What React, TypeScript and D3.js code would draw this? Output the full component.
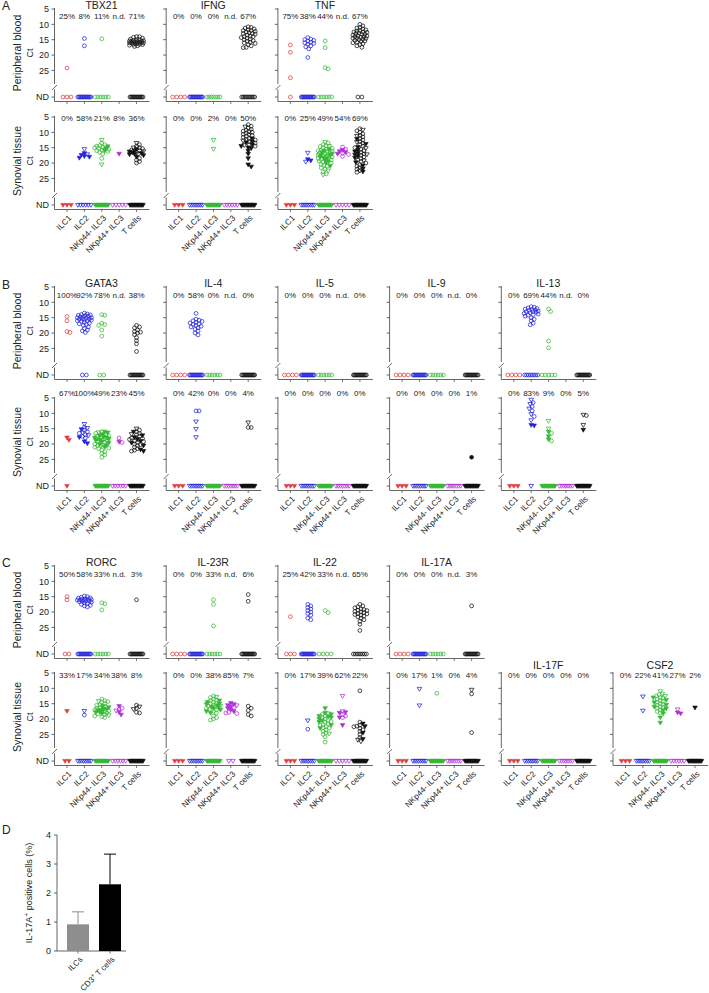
import React from 'react';
import * as d3 from 'd3';

type G = { o?: number[]; v?: number[]; t?: number[]; f?: number[]; nd?: number };

const CATS = ['ILC1', 'ILC2', 'NKp44- ILC3', 'NKp44+ ILC3', 'T cells'];
const COLORS = ['#e23b3f', '#2424dc', '#36b936', '#b12fd6', '#111111'];
const Y_TICKS = [5, 10, 15, 20, 25];
const D = 14; // dense ND row

// ---------- Panel A: peripheral blood ----------
const tbx21Blood: G[] = [
  { o: [24.2], nd: 3 },
  { o: [14.6, 17], nd: D },
  { o: [14.7], nd: 6 },
  {},
  { o: [14, 14, 14.2, 14.5, 14.8, 15, 15, 15.2, 15.3, 15.5, 15.5, 15.6, 15.8, 15.8, 16, 16, 16, 16.2, 16.3, 16.5, 16.5, 16.6, 16.8, 17, 17.2, 15.7, 15.4, 16.1], nd: D },
];
const tbx21BloodPct = ['25%', '8%', '11%', 'n.d.', '71%'];
const ifngBlood: G[] = [
  { nd: 4 },
  { nd: D },
  { nd: 7 },
  {},
  { o: [10.8, 11, 11.2, 11.5, 11.8, 12, 12, 12.3, 12.5, 12.7, 13, 13, 13.2, 13.5, 13.8, 14, 14, 14.3, 14.5, 14.8, 15, 15.3, 15.5, 15.8, 16, 16.2, 16.6, 17, 17.5, 17.6], nd: 10 },
];
const ifngBloodPct = ['0%', '0%', '0%', 'n.d.', '67%'];
const tnfBlood: G[] = [
  { o: [16.7, 19.1, 27.4], nd: 1 },
  { o: [14.3, 14.8, 15, 15.2, 15.5, 15.8, 16, 16.2, 16.5, 17, 17.3, 18, 20.8], nd: D },
  { o: [15.4, 17.6, 24.1, 24.5], nd: 6 },
  {},
  { o: [10, 10.5, 11, 11.2, 11.5, 11.8, 12, 12.2, 12.5, 12.5, 12.8, 13, 13.2, 13.3, 13.5, 13.7, 14, 14, 14.2, 14.5, 14.6, 14.8, 15, 15.2, 15.5, 15.8, 16, 16.3, 16.6, 17, 17.5, 12.6, 13.8, 14.4, 15.4], nd: 2 },
];
const tnfBloodPct = ['75%', '38%', '44%', 'n.d.', '67%'];

// ---------- Panel A: synovial tissue ----------
const tbx21Syn: G[] = [
  { nd: 3 },
  { v: [15.5, 17.2], t: [16.8, 17.4, 17.8, 18, 18.3], nd: 6 },
  { v: [12.5, 20.5], o: [13.5, 14, 14.3, 14.5, 14.8, 15, 15.2, 15.5, 15.8, 16, 16.2, 16.5, 17, 18.5], t: [14.6, 15.3, 16], nd: D },
  { t: [17], nd: 5 },
  { o: [14, 14.5, 15, 15.3, 15.8, 16, 16.5, 17, 18.5, 19, 19.5, 20], v: [13.5, 15, 16.2], t: [15.5, 16, 16.3, 16.6, 16.8, 17, 17.2, 17.5, 18], nd: D },
];
const tbx21SynPct = ['0%', '58%', '21%', '8%', '36%'];
const ifngSyn: G[] = [
  { nd: 3 },
  { nd: 8 },
  { v: [12.5, 15.4], nd: D },
  { nd: 6 },
  { o: [7.5, 8, 8.5, 9, 9.3, 9.6, 10, 10.3, 10.6, 11, 11.3, 11.6, 12, 12.3, 12.5, 13, 13.5, 14, 14.5], v: [8.2, 9.8, 10.8, 12.8, 14.2], t: [12, 13, 13.3, 14, 14.5, 15, 15.2, 16, 17, 18.5, 20.5, 21.2], nd: D },
];
const ifngSynPct = ['0%', '0%', '2%', '0%', '50%'];
const tnfSyn: G[] = [
  { nd: 3 },
  { v: [16.7, 19.6], t: [18.8, 19.2], nd: 8 },
  { o: [13.5, 14, 14.3, 14.6, 15, 15.2, 15.5, 15.8, 16, 16.2, 16.4, 16.6, 16.8, 17, 17.2, 17.4, 17.6, 17.8, 18, 18.2, 18.5, 18.8, 19, 19.3, 19.6, 20, 20.5, 21, 21.5, 22, 22.8, 23.5], t: [15.5, 16, 16.5, 17, 17.3, 17.5, 18, 18.3, 18.6, 19, 19.5, 20, 21], v: [13.2, 14.5, 20.8, 22.5, 23.8], nd: D },
  { o: [14.8, 15.5, 16.8, 17.2, 17.8], t: [15.8, 16.2, 16.5, 17], nd: 5 },
  { o: [8.8, 9.5, 10, 10.5, 11, 11.5, 12, 12.5, 13, 13.5, 14, 14.5, 15, 15.5, 16, 16.5, 17, 17.5, 18, 18.5, 19, 19.5, 20, 20.5, 21, 22, 23], v: [9.2, 11.2, 13.2, 15.2, 17.2, 19.2, 21.5, 22.5], t: [12.2, 13.8, 14.8, 15.8, 16.3, 16.8, 17.3, 17.8, 18.3, 19.8, 20.8, 21.8, 22.8], nd: D },
];
const tnfSynPct = ['0%', '25%', '49%', '54%', '69%'];

// ---------- Panel B: peripheral blood ----------
const gata3Blood: G[] = [
  { o: [14.6, 16, 19.5, 19.8] },
  { o: [13.5, 13.8, 14, 14.2, 14.3, 14.5, 14.6, 14.8, 15, 15, 15.2, 15.3, 15.5, 15.6, 15.8, 16, 16, 16.2, 16.5, 16.8, 17, 17.2, 17.5, 18, 18.5, 19, 19.3, 19.8, 14.1, 15.4], nd: 2 },
  { o: [14.2, 14, 16.8, 17.5, 17.2, 19, 21], nd: 2 },
  {},
  { o: [17.5, 18, 18.3, 19, 19.5, 19.7, 20, 20.5, 21.5, 22.5, 23.5, 26], nd: D },
];
const gata3BloodPct = ['100%', '92%', '78%', 'n.d.', '38%'];
const il4Blood: G[] = [
  { nd: 4 },
  { o: [13.6, 15.5, 15.8, 16, 16.2, 16.5, 16.7, 17, 17.2, 17.5, 17.8, 18, 18.3, 18.8, 19.3, 20, 20.6], nd: D },
  { nd: 6 },
  {},
  { nd: D },
];
const il4BloodPct = ['0%', '58%', '0%', 'n.d.', '0%'];
const il5Blood: G[] = [{ nd: 4 }, { nd: D }, { nd: 6 }, {}, { nd: D }];
const il5BloodPct = ['0%', '0%', '0%', 'n.d.', '0%'];
const il9Blood: G[] = [{ nd: 4 }, { nd: D }, { nd: 6 }, {}, { nd: D }];
const il9BloodPct = ['0%', '0%', '0%', 'n.d.', '0%'];
const il13Blood: G[] = [
  { nd: 4 },
  { o: [11.4, 11.6, 11.8, 12, 12.2, 12.3, 12.5, 12.6, 12.8, 13, 13, 13.2, 13.4, 13.6, 13.8, 14, 14.2, 14.5, 15, 15.5, 16, 16.8, 17.3], nd: 8 },
  { o: [12.2, 13, 22.6, 24.8], nd: 5 },
  {},
  { nd: D },
];
const il13BloodPct = ['0%', '69%', '44%', 'n.d.', '0%'];

// ---------- Panel B: synovial tissue ----------
const gata3Syn: G[] = [
  { t: [17.9, 18.7], nd: 1 },
  { o: [14.5, 15.5, 16, 16.5, 17, 17.5, 18], v: [13.5, 14.8, 16.3, 17.2], t: [15.2, 17.8, 19.2, 19.8] },
  { o: [16, 16.5, 17, 17.5, 18, 18.5, 19, 19.5, 20, 20.5, 21, 21.5, 22, 22.5, 23, 23.5, 24.3, 17.3, 18.3, 19.3, 20.3, 21.3], t: [16, 16.3, 16.8, 17.2, 17.6, 18, 18.4, 18.8, 19.2, 19.6, 20, 20.4, 21, 17.9, 18.6], v: [16.2, 18.2, 20.6], nd: D },
  { o: [18, 19.5], t: [19.3], nd: 6 },
  { o: [15.5, 16, 16.5, 17, 17.5, 18, 18.5, 19, 19.5, 20, 20.5, 21, 21.5, 22, 22.3, 18.2, 19.2, 20.2], t: [16, 17.2, 17.8, 18.4, 19, 19.6, 20.5, 21.8, 22.3], v: [15, 16.8], nd: D },
];
const gata3SynPct = ['67%', '100%', '49%', '23%', '45%'];
const il4Syn: G[] = [
  { nd: 3 },
  { o: [9.2, 9.2], v: [12.7, 15.1, 17.8], nd: 8 },
  { nd: D },
  { nd: 7 },
  { v: [13], o: [14.6, 14.6], nd: D },
];
const il4SynPct = ['0%', '42%', '0%', '0%', '4%'];
const il5Syn: G[] = [{ nd: 3 }, { nd: 8 }, { nd: D }, { nd: 7 }, { nd: D }];
const il5SynPct = ['0%', '0%', '0%', '0%', '0%'];
const il9Syn: G[] = [{ nd: 3 }, { nd: 8 }, { nd: D }, { nd: 7 }, { f: [24.3], nd: D }];
const il9SynPct = ['0%', '0%', '0%', '0%', '1%'];
const il13Syn: G[] = [
  { nd: 3 },
  { v: [5.6, 7, 8.5, 10.3, 12.3], o: [6.5, 7.8, 9.2, 11], t: [13.8, 14], nd: 1 },
  { v: [12.5, 15], o: [16.5, 19], t: [16, 17.5, 18.5], nd: D },
  { nd: 7 },
  { v: [10.5, 13.8], o: [10.7], t: [15.4], nd: D },
];
const il13SynPct = ['0%', '83%', '9%', '0%', '5%'];

// ---------- Panel C: peripheral blood ----------
const rorcBlood: G[] = [
  { o: [15, 16], nd: 2 },
  { o: [14.8, 15, 15.2, 15.4, 15.5, 15.7, 15.8, 16, 16, 16.2, 16.3, 16.5, 16.6, 16.8, 17, 17.2, 17.5, 17.8, 18, 18.3, 16.1, 15.9, 16.4], nd: D },
  { o: [17.3, 17, 19.3], nd: 6 },
  {},
  { o: [16], nd: D },
];
const rorcBloodPct = ['50%', '58%', '33%', 'n.d.', '3%'];
const il23rBlood: G[] = [
  { nd: 4 },
  { nd: D },
  { o: [16, 17.5, 24.5], nd: 6 },
  {},
  { o: [14.3, 16.5], nd: D },
];
const il23rBloodPct = ['0%', '0%', '33%', 'n.d.', '6%'];
const il22Blood: G[] = [
  { o: [21.5], nd: 3 },
  { o: [17.5, 18, 18.5, 19, 19.5, 20, 20.5, 21, 22, 22.5], nd: D },
  { o: [19.5, 20.2], nd: 4 },
  {},
  { o: [17.5, 18, 18.3, 18.6, 19, 19.2, 19.5, 19.8, 20, 20.2, 20.5, 20.8, 21, 21.3, 21.6, 22, 22.5, 23, 24, 26, 19.4, 20.6], nd: 8 },
];
const il22BloodPct = ['25%', '42%', '33%', 'n.d.', '65%'];
const il17aBlood: G[] = [
  { nd: 4 },
  { nd: D },
  { nd: 6 },
  {},
  { o: [18], nd: D },
];
const il17aBloodPct = ['0%', '0%', '0%', 'n.d.', '3%'];

// ---------- Panel C: synovial tissue ----------
const rorcSyn: G[] = [
  { t: [17.4], nd: 2 },
  { v: [17.4], o: [18.7], nd: 8 },
  { o: [13.5, 14, 14.5, 15, 15.5, 16, 16.5, 17, 17.5, 18, 18.5, 19, 19.5, 14.3, 15.3, 16.3, 17.3, 18.3, 19.2], t: [15.8, 16.2, 16.6, 17, 17.2, 17.5, 17.8, 18.2, 16.8, 17.6], v: [14.2, 18.8], nd: D },
  { t: [15.8, 17.8, 18.6], o: [16.8, 16.5], v: [17.3], nd: 6 },
  { o: [15.5, 16.5, 17.8, 18], v: [16, 16.8], nd: D },
];
const rorcSynPct = ['33%', '17%', '34%', '38%', '8%'];
const il23rSyn: G[] = [
  { nd: 3 },
  { nd: 8 },
  { o: [12.5, 13, 13.5, 14, 14.5, 15, 15.5, 16, 16.5, 17, 17.5, 18, 19, 19.5, 20, 20.3, 13.8, 14.8, 15.8, 16.8], t: [14, 14.5, 15, 15.5, 16, 16.5, 17, 17.5, 18, 15.2, 16.2], v: [12.8, 15.8], nd: D },
  { t: [14.8, 15.2, 15.5, 16, 16.5, 17, 17.5], o: [16.2, 17.8, 18, 18.2], v: [15.6], nd: 2 },
  { o: [15.8, 16.5, 17.2, 18.5, 19], nd: D },
];
const il23rSynPct = ['0%', '0%', '38%', '85%', '7%'];
const il22Syn: G[] = [
  { nd: 3 },
  { v: [20.5], o: [23.3], nd: 8 },
  { t: [16.5, 18, 18.5, 19, 19.2, 19.5, 20, 20.5, 21, 22, 23], o: [18.5, 19, 19.5, 20, 20.5, 21, 21.5, 22, 22.5, 23, 23.5, 24, 24.5, 25, 25.8, 27.5, 20.8, 21.8, 22.8], v: [18.2, 24.8], nd: D },
  { v: [12.5, 17.5], t: [18, 17.8, 19.5, 22], o: [18.5, 19, 19.5], nd: 5 },
  { o: [10.8, 21, 22, 22.5, 23, 23.5, 24, 25, 26, 22.3], t: [21.5, 22.4, 24.5, 26.5], v: [26.8, 27.3], nd: D },
];
const il22SynPct = ['0%', '17%', '39%', '62%', '22%'];
const il17aSyn: G[] = [
  { nd: 3 },
  { v: [10.2, 15.6], nd: 8 },
  { o: [11.6], nd: D },
  { nd: 7 },
  { o: [11.8, 24.4], v: [10.5], nd: D },
];
const il17aSynPct = ['0%', '17%', '1%', '0%', '4%'];
const il17fSyn: G[] = [{ nd: 3 }, { nd: 8 }, { nd: D }, { nd: 7 }, { nd: D }];
const il17fSynPct = ['0%', '0%', '0%', '0%', '0%'];
const csf2Syn: G[] = [
  { nd: 3 },
  { v: [12.7, 17.3], nd: 8 },
  { v: [11, 11.8, 12.5], o: [12, 12.5, 13, 13.5, 14, 14.5, 15, 15.5, 16, 16.5, 17, 17.5, 18, 13.2, 14.2, 15.2, 16.2], t: [13, 13.8, 14.6, 15.4, 16, 16.6, 17.2, 18.2, 19.5, 21.2], nd: D },
  { t: [17.9, 18.2], v: [16.9], nd: 6 },
  { t: [16.3], nd: D },
];
const csf2SynPct = ['0%', '22%', '41%', '27%', '2%'];

// ---------- Panel D ----------
const dCats = ['ILCs', 'CD3+ T cells'];
const dMeans = [0.92, 2.3];
const dErr = [0.43, 1.04];
const dTicks = [0, 1, 2, 3, 4];

// ---------- layout ----------
const FONT = '"Liberation Sans", Arial, Helvetica, sans-serif';
const TXT = '#222';
const AX = '#555';
const COL_X = [54.5, 166.2, 277.9, 389.6, 501.3, 613];
const PX_PER_CT = 3.07;

type Panel = { col: number; title?: string; data: G[]; pct: string[] };
type Row = { y5: number; pctY: number; titleY: number; label: string; xlabels: boolean; blood: boolean; letter?: string; letterY?: number; panels: Panel[] };

const ROWS: Row[] = [
  { y5: 9, pctY: 16, titleY: 5, label: 'Peripheral blood', xlabels: false, blood: true, letter: 'A', letterY: 6,
    panels: [
      { col: 0, title: 'TBX21', data: tbx21Blood, pct: tbx21BloodPct },
      { col: 1, title: 'IFNG', data: ifngBlood, pct: ifngBloodPct },
      { col: 2, title: 'TNF', data: tnfBlood, pct: tnfBloodPct },
    ] },
  { y5: 117, pctY: 118, titleY: 0, label: 'Synovial tissue', xlabels: true, blood: false,
    panels: [
      { col: 0, data: tbx21Syn, pct: tbx21SynPct },
      { col: 1, data: ifngSyn, pct: ifngSynPct },
      { col: 2, data: tnfSyn, pct: tnfSynPct },
    ] },
  { y5: 287, pctY: 295, titleY: 283, label: 'Peripheral blood', xlabels: false, blood: true, letter: 'B', letterY: 285,
    panels: [
      { col: 0, title: 'GATA3', data: gata3Blood, pct: gata3BloodPct },
      { col: 1, title: 'IL-4', data: il4Blood, pct: il4BloodPct },
      { col: 2, title: 'IL-5', data: il5Blood, pct: il5BloodPct },
      { col: 3, title: 'IL-9', data: il9Blood, pct: il9BloodPct },
      { col: 4, title: 'IL-13', data: il13Blood, pct: il13BloodPct },
    ] },
  { y5: 398, pctY: 393, titleY: 0, label: 'Synovial tissue', xlabels: true, blood: false,
    panels: [
      { col: 0, data: gata3Syn, pct: gata3SynPct },
      { col: 1, data: il4Syn, pct: il4SynPct },
      { col: 2, data: il5Syn, pct: il5SynPct },
      { col: 3, data: il9Syn, pct: il9SynPct },
      { col: 4, data: il13Syn, pct: il13SynPct },
    ] },
  { y5: 566, pctY: 574, titleY: 562, label: 'Peripheral blood', xlabels: false, blood: true, letter: 'C', letterY: 563,
    panels: [
      { col: 0, title: 'RORC', data: rorcBlood, pct: rorcBloodPct },
      { col: 1, title: 'IL-23R', data: il23rBlood, pct: il23rBloodPct },
      { col: 2, title: 'IL-22', data: il22Blood, pct: il22BloodPct },
      { col: 3, title: 'IL-17A', data: il17aBlood, pct: il17aBloodPct },
    ] },
  { y5: 673, pctY: 675, titleY: 665, label: 'Synovial tissue', xlabels: true, blood: false,
    panels: [
      { col: 0, data: rorcSyn, pct: rorcSynPct },
      { col: 1, data: il23rSyn, pct: il23rSynPct },
      { col: 2, data: il22Syn, pct: il22SynPct },
      { col: 3, data: il17aSyn, pct: il17aSynPct },
      { col: 4, title: 'IL-17F', data: il17fSyn, pct: il17fSynPct },
      { col: 5, title: 'CSF2', data: csf2Syn, pct: csf2SynPct },
    ] },
];

function swarm(ys: number[], minD = 3.0, step = 1.0, maxOff = 7): number[] {
  const idx = ys.map((_, i) => i).sort((a, b) => ys[a] - ys[b]);
  const placed: { x: number; y: number }[] = [];
  const out = new Array(ys.length).fill(0);
  const nCand = Math.floor(maxOff / step) * 2 + 1;
  for (const i of idx) {
    const y = ys[i];
    let best = 0;
    let bestD = -1;
    for (let k = 0; k < nCand; k++) {
      const off = (k % 2 === 1 ? 1 : -1) * Math.ceil(k / 2) * step;
      let md = Infinity;
      for (const p of placed) {
        if (Math.abs(p.y - y) < minD) {
          const d = Math.hypot(p.x - off, p.y - y);
          if (d < md) md = d;
        }
      }
      if (md >= minD) { best = off; bestD = md; break; }
      if (md > bestD) { bestD = md; best = off; }
    }
    placed.push({ x: best, y });
    out[i] = best;
  }
  return out;
}

const TRI = 'M0,2.3L-2.3,-1.6L2.3,-1.6Z';

function Marker({ x, y, type, color }: { x: number; y: number; type: string; color: string }) {
  if (type === 'o') return <circle cx={x} cy={y} r={1.9} fill="none" stroke={color} strokeWidth={0.75} />;
  if (type === 'f') return <circle cx={x} cy={y} r={1.9} fill={color} stroke={color} strokeWidth={0.6} />;
  if (type === 'v') return <path d={TRI} transform={`translate(${x},${y})`} fill="none" stroke={color} strokeWidth={0.75} />;
  return <path d={TRI} transform={`translate(${x},${y})`} fill={color} stroke={color} strokeWidth={0.6} />;
}

function SubPlot({ row, panel }: { row: Row; panel: Panel }) {
  const x0 = COL_X[panel.col];
  const y = d3.scaleLinear().domain([5, 25]).range([row.y5, row.y5 + 20 * PX_PER_CT]);
  const x = d3.scalePoint<string>().domain(CATS).range([x0 + 12.5, x0 + 82]);
  const ndY = row.y5 + 88;
  const axY = row.y5 + 92.5;
  const first = panel.col === 0;
  const ndDefault = row.blood ? ['o', 'o', 'o', 'o', 'o'] : ['t', 'v', 't', 'v', 't'];
  return (
    <g>
      {/* y axis with break */}
      <line x1={x0} x2={x0} y1={row.y5 - 1} y2={row.y5 + 75} stroke={AX} strokeWidth={0.9} />
      <line x1={x0 - 2.5} x2={x0 + 2.5} y1={row.y5 + 81} y2={row.y5 + 76} stroke={AX} strokeWidth={0.9} />
      <line x1={x0} x2={x0} y1={row.y5 + 80.5} y2={axY} stroke={AX} strokeWidth={0.9} />
      {Y_TICKS.map((t) => (
        <g key={t}>
          <line x1={x0 - 3} x2={x0} y1={y(t)} y2={y(t)} stroke={AX} strokeWidth={0.9} />
          {first && (
            <text x={x0 - 5.5} y={y(t)} dy="0.35em" textAnchor="end" fontSize={9} fill={TXT}>{t}</text>
          )}
        </g>
      ))}
      <line x1={x0 - 3} x2={x0} y1={ndY} y2={ndY} stroke={AX} strokeWidth={0.9} />
      {first && <text x={x0 - 5.5} y={ndY} dy="0.35em" textAnchor="end" fontSize={9} fill={TXT}>ND</text>}
      {/* x axis */}
      <line x1={x0} x2={x0 + 95} y1={axY} y2={axY} stroke={AX} strokeWidth={0.9} />
      {CATS.map((c) => (
        <line key={c} x1={x(c)!} x2={x(c)!} y1={axY} y2={axY + 2.5} stroke={AX} strokeWidth={0.8} />
      ))}
      {row.xlabels && CATS.map((c) => (
        <text key={'l' + c} transform={`translate(${x(c)! + 3},${axY + 7}) rotate(-45)`} textAnchor="end" dy="0.35em" fontSize={8.2} fill={TXT}>{c}</text>
      ))}
      {panel.title && (
        <text x={x0 + 47} y={row.titleY} dy="0.35em" textAnchor="middle" fontSize={10.5} fill={TXT}>{panel.title}</text>
      )}
      {panel.pct.map((p, i) => (
        <text key={'p' + i} x={x(CATS[i])!} y={row.pctY} dy="0.35em" textAnchor="middle" fontSize={8} fill={TXT}>{p}</text>
      ))}
      {panel.data.map((g, gi) => {
        const cx = x(CATS[gi])!;
        const col = COLORS[gi];
        const items: { v: number; type: string }[] = [];
        (g.o || []).forEach((v) => items.push({ v, type: 'o' }));
        (g.v || []).forEach((v) => items.push({ v, type: 'v' }));
        (g.t || []).forEach((v) => items.push({ v, type: 't' }));
        (g.f || []).forEach((v) => items.push({ v, type: 'f' }));
        const ys = items.map((it) => y(it.v));
        const offs = swarm(ys);
        const n = g.nd || 0;
        const sp = n > 1 ? Math.min(4, 13 / (n - 1)) : 0;
        const nds = d3.range(n);
        return (
          <g key={'g' + gi}>
            {items.map((it, j) => (
              <Marker key={j} x={cx + offs[j]} y={ys[j]} type={it.type} color={col} />
            ))}
            {nds.map((j) => (
              <Marker key={'n' + j} x={cx + (j - (n - 1) / 2) * sp} y={ndY} type={ndDefault[gi]} color={col} />
            ))}
          </g>
        );
      })}
    </g>
  );
}

function RowLabels({ row }: { row: Row }) {
  const cy = row.y5 + 44;
  return (
    <g>
      <text transform={`translate(17,${cy}) rotate(-90)`} textAnchor="middle" dy="0.35em" fontSize={10.5} fill={TXT}>{row.label}</text>
      <text transform={`translate(30,${cy}) rotate(-90)`} textAnchor="middle" dy="0.35em" fontSize={9} fill={TXT}>Ct</text>
      {row.letter && (
        <text x={2} y={row.letterY!} dy="0.35em" fontSize={12} fill={TXT}>{row.letter}</text>
      )}
    </g>
  );
}

function PanelD() {
  const y = d3.scaleLinear().domain([0, 4]).range([951, 835]);
  const x = d3.scalePoint<string>().domain(dCats).range([78, 110]);
  const bw = 22;
  const x0 = 57;
  return (
    <g>
      <text x={2} y={830} dy="0.35em" fontSize={12} fill={TXT}>D</text>
      <line x1={x0} x2={x0} y1={y(4)} y2={y(0)} stroke={AX} strokeWidth={0.9} />
      {dTicks.map((t) => (
        <g key={t}>
          <line x1={x0 - 3} x2={x0} y1={y(t)} y2={y(t)} stroke={AX} strokeWidth={0.9} />
          <text x={x0 - 6} y={y(t)} dy="0.35em" textAnchor="end" fontSize={9} fill={TXT}>{t}</text>
        </g>
      ))}
      <line x1={x0} x2={126} y1={y(0)} y2={y(0)} stroke={AX} strokeWidth={0.9} />
      {dCats.map((c, i) => {
        const cx = x(c)!;
        const top = y(dMeans[i]);
        const et = y(dMeans[i] + dErr[i]);
        const col = i === 0 ? '#8e8e8e' : '#000';
        return (
          <g key={c}>
            <line x1={cx} x2={cx} y1={top} y2={et} stroke={col} strokeWidth={1} />
            <line x1={cx - 6} x2={cx + 6} y1={et} y2={et} stroke={col} strokeWidth={1} />
            <rect x={cx - bw / 2} y={top} width={bw} height={y(0) - top} fill={col} />
            <line x1={cx} x2={cx} y1={y(0)} y2={y(0) + 2.5} stroke={AX} strokeWidth={0.8} />
            <text transform={`translate(${cx + 3},${y(0) + 7}) rotate(-45)`} textAnchor="end" dy="0.35em" fontSize={8} fill={TXT}>
              {i === 0 ? 'ILCs' : <>CD3<tspan dy="-3" fontSize={6}>+</tspan><tspan dy="3"> T cells</tspan></>}
            </text>
          </g>
        );
      })}
      <text transform={`translate(29,${893}) rotate(-90)`} textAnchor="middle" dy="0.35em" fontSize={9} fill={TXT}>
        IL-17A<tspan dy="-3" fontSize={6.5}>+</tspan><tspan dy="3"> positive cells (%)</tspan>
      </text>
    </g>
  );
}

export default function App() {
  return (
    <svg width={709} height={993} style={{ position: 'absolute', left: 0, top: 0, background: '#fff' }} fontFamily={FONT}>
      <rect width={709} height={993} fill="#fff" />
      {ROWS.map((row, ri) => (
        <g key={ri}>
          <RowLabels row={row} />
          {row.panels.map((p, pi) => (
            <SubPlot key={pi} row={row} panel={p} />
          ))}
        </g>
      ))}
      <PanelD />
    </svg>
  );
}
